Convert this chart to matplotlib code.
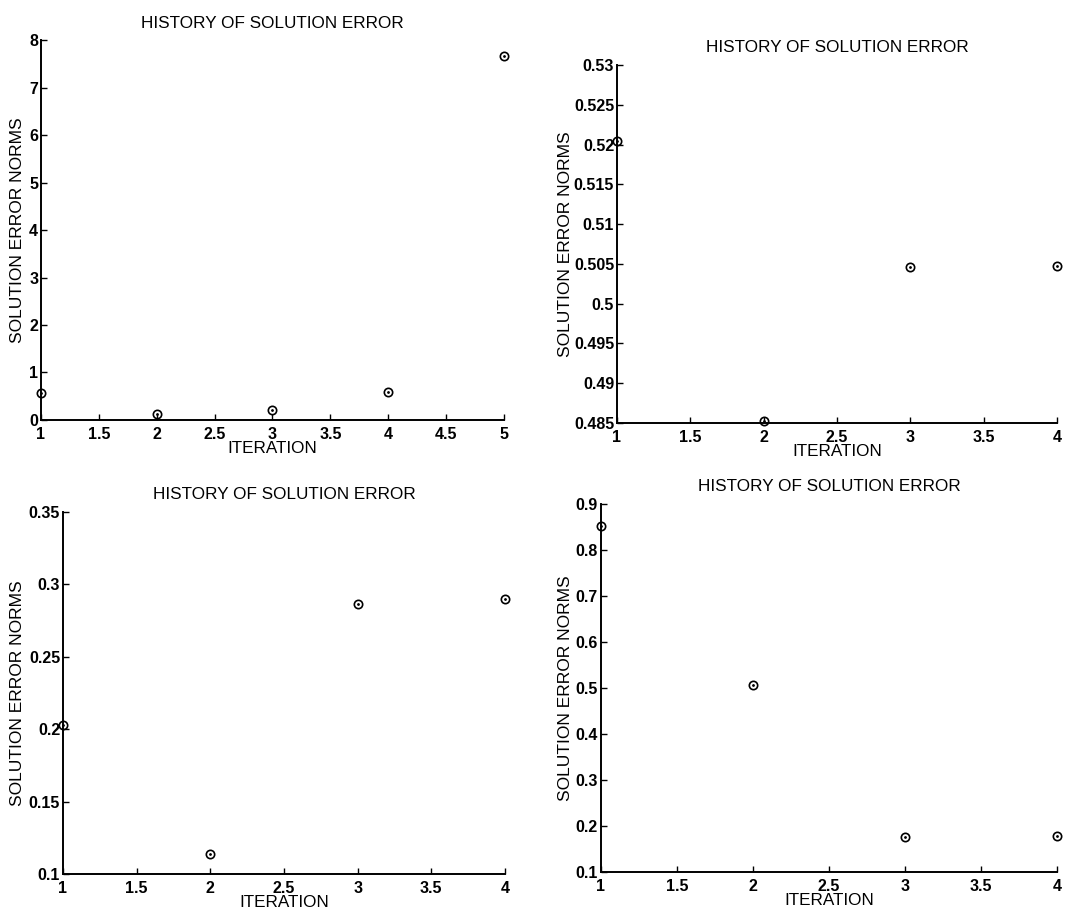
import matplotlib
matplotlib.use('Agg')
import matplotlib.pyplot as plt
from matplotlib import font_manager

plt.rcParams['font.family'] = ['Liberation Sans', 'DejaVu Sans']

# iteration numbers and solution error norms, one set per panel
iter_a = [1, 2, 3, 4, 5]
err_a = [0.56, 0.13, 0.22, 0.59, 7.66]
iter_b = [1, 2, 3, 4]
err_b = [0.5204, 0.4853, 0.5046, 0.5047]
iter_c = [1, 2, 3, 4]
err_c = [0.203, 0.114, 0.2866, 0.2899]
iter_d = [1, 2, 3, 4]
err_d = [0.853, 0.507, 0.176, 0.179]

yticks_a = [0, 1, 2, 3, 4, 5, 6, 7, 8]
yticks_b = [0.485, 0.49, 0.495, 0.5, 0.505, 0.51, 0.515, 0.52, 0.525, 0.53]
yticks_c = [0.1, 0.15, 0.2, 0.25, 0.3, 0.35]
yticks_d = [0.1, 0.2, 0.3, 0.4, 0.5, 0.6, 0.7, 0.8, 0.9]
xticks_a = [1, 1.5, 2, 2.5, 3, 3.5, 4, 4.5, 5]
xticks_b = [1, 1.5, 2, 2.5, 3, 3.5, 4]

names = set(f.name for f in font_manager.fontManager.ttflist)
if 'Liberation Sans Narrow' in names:
    tick_family = ['Liberation Sans Narrow', 'DejaVu Sans']
    tick_size = 13
else:
    tick_family = ['Liberation Sans', 'DejaVu Sans']
    tick_size = 11.5

fig = plt.figure(figsize=(10.73, 9.11), dpi=100)

# left, bottom, width, height in figure fractions
rects = [
    [0.0382, 0.539, 0.4315, 0.417],
    [0.575, 0.5357, 0.410, 0.393],
    [0.0587, 0.0406, 0.4119, 0.3974],
    [0.560, 0.0428, 0.425, 0.404],
]
panels = [
    (iter_a, err_a, xticks_a, yticks_a),
    (iter_b, err_b, xticks_b, yticks_b),
    (iter_c, err_c, xticks_b, yticks_c),
    (iter_d, err_d, xticks_b, yticks_d),
]
ylab_x = [-0.0346, -0.100, -0.086, -0.0614]
xlab_y = [-0.056, -0.058, -0.058, -0.057]

for r, (x, y, xt, yt), lx, ly in zip(rects, panels, ylab_x, xlab_y):
    ax = fig.add_axes(r)
    ax.plot(x, y, 'o', mfc='none', mec='black', ms=6, mew=1.2, clip_on=False)
    ax.plot(x, y, '.', color='black', ms=2, clip_on=False)
    ax.set_xlim(xt[0], xt[-1])
    ax.set_ylim(yt[0], yt[-1])
    ax.set_xticks(xt)
    ax.set_yticks(yt)
    ax.set_xticklabels(['%g' % v for v in xt], fontweight='bold',
                       family=tick_family, fontsize=tick_size)
    ax.set_yticklabels(['%g' % v for v in yt], fontweight='bold',
                       family=tick_family, fontsize=tick_size)
    ax.spines['top'].set_visible(False)
    ax.spines['right'].set_visible(False)
    ax.spines['left'].set_linewidth(1.4)
    ax.spines['bottom'].set_linewidth(1.4)
    ax.tick_params(direction='in', length=4, width=1)
    ax.tick_params(axis='x', pad=5)
    ax.tick_params(axis='y', pad=2)
    ax.set_title('HISTORY OF SOLUTION ERROR', fontsize=12.3, pad=9)
    ax.set_xlabel('ITERATION', fontsize=12.3)
    ax.xaxis.set_label_coords(0.5, ly)
    ax.set_ylabel('SOLUTION ERROR NORMS', fontsize=12.5)
    ax.yaxis.set_label_coords(lx, 0.5)

fig.savefig('out.png', dpi=100)
